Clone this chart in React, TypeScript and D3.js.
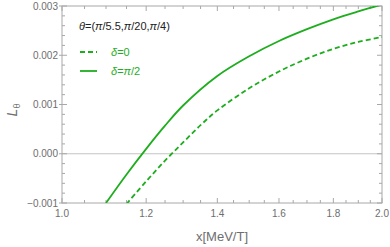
import React from "react";
import * as d3 from "d3";

// readings (log x axis)
const xsSolid = [1.1, 1.15, 1.2, 1.25, 1.3, 1.4, 1.5, 1.6, 1.7, 1.8, 1.9, 2.0];
const ysSolid = [-0.001, -0.00042, 0.0001, 0.00057, 0.00098, 0.00158, 0.00198, 0.00229, 0.00253, 0.00273, 0.00289, 0.00303];
const xsDashed = [1.15, 1.2, 1.25, 1.3, 1.35, 1.4, 1.5, 1.6, 1.7, 1.8, 1.9, 2.0];
const ysDashed = [-0.00102, -0.00056, -0.00014, 0.00023, 0.00058, 0.00088, 0.00133, 0.00167, 0.00193, 0.00213, 0.00227, 0.00237];

const xMajor = [1.0, 1.2, 1.4, 1.6, 1.8, 2.0];
const yMajor = [-0.001, 0.0, 0.001, 0.002, 0.003];
const yLabels = ["\u22120.001", "0.000", "0.001", "0.002", "0.003"];

const W = 390;
const H = 247;
const margin = { top: 6, right: 8, bottom: 44, left: 62 };
const green = "#1ead1e";
const frameColor = "#a8a8a8";
const textColor = "#6e6e6e";

const App = () => {
  const x = d3
    .scaleLog()
    .domain([1, 2])
    .range([margin.left, W - margin.right]);
  const y = d3
    .scaleLinear()
    .domain([-0.001, 0.003])
    .range([H - margin.bottom, margin.top]);

  const line = d3
    .line<[number, number]>()
    .x((d) => x(d[0]))
    .y((d) => y(d[1]))
    .curve(d3.curveCatmullRom.alpha(0.5));

  const solid = xsSolid.map((v, i) => [v, ysSolid[i]] as [number, number]);
  const dashed = xsDashed.map((v, i) => [v, ysDashed[i]] as [number, number]);

  const x0 = x(1), x1 = x(2), y0 = y(-0.001), y1 = y(0.003);

  const xMinor = d3.range(1.05, 2.0, 0.05).filter((v) => Math.abs(v * 5 - Math.round(v * 5)) > 1e-6);
  const yMinor = d3.range(-0.0008, 0.003, 0.0002).filter((v) => Math.abs(v * 1000 - Math.round(v * 1000)) > 1e-6);

  const font = "'Liberation Sans', Arial, sans-serif";

  return (
    <svg width={W} height={H} style={{ position: "absolute", left: 0, top: 0 }} fontFamily={font}>
      <defs>
        <clipPath id="plot">
          <rect x={x0} y={y1} width={x1 - x0} height={y0 - y1} />
        </clipPath>
      </defs>
      {/* zero line */}
      <line x1={x0} x2={x1} y1={y(0)} y2={y(0)} stroke="#c4c4c4" strokeWidth={1} />
      {/* frame */}
      <rect x={x0} y={y1} width={x1 - x0} height={y0 - y1} fill="none" stroke={frameColor} strokeWidth={1} />
      {/* x ticks */}
      {xMajor.map((v) => (
        <g key={"xm" + v}>
          <line x1={x(v)} x2={x(v)} y1={y0} y2={y0 - 5} stroke={frameColor} />
          <line x1={x(v)} x2={x(v)} y1={y1} y2={y1 + 5} stroke={frameColor} />
          <text x={x(v)} y={y0 + 14} textAnchor="middle" fontSize={10} fill={textColor}>
            {v.toFixed(1)}
          </text>
        </g>
      ))}
      {xMinor.map((v) => (
        <g key={"xn" + v}>
          <line x1={x(v)} x2={x(v)} y1={y0} y2={y0 - 3} stroke={frameColor} />
          <line x1={x(v)} x2={x(v)} y1={y1} y2={y1 + 3} stroke={frameColor} />
        </g>
      ))}
      {/* y ticks */}
      {yMajor.map((v, i) => (
        <g key={"ym" + v}>
          <line x1={x0 - 3} x2={x0 + 5} y1={y(v)} y2={y(v)} stroke={frameColor} />
          <line x1={x1} x2={x1 - 5} y1={y(v)} y2={y(v)} stroke={frameColor} />
          <text x={x0 - 4} y={y(v) + 3.5} textAnchor="end" fontSize={10} fill={textColor}>
            {yLabels[i]}
          </text>
        </g>
      ))}
      {yMinor.map((v) => (
        <g key={"yn" + v}>
          <line x1={x0} x2={x0 + 3} y1={y(v)} y2={y(v)} stroke={frameColor} />
          <line x1={x1} x2={x1 - 3} y1={y(v)} y2={y(v)} stroke={frameColor} />
        </g>
      ))}
      {/* curves */}
      <g clipPath="url(#plot)">
        <path d={line(dashed) || ""} fill="none" stroke={green} strokeWidth={1.8} strokeDasharray="5,3" />
        <path d={line(solid) || ""} fill="none" stroke={green} strokeWidth={1.8} />
      </g>
      {/* axis labels */}
      <text x={(x0 + x1) / 2} y={241} textAnchor="middle" fontSize={13} fill={textColor}>
        x[MeV/T]
      </text>
      <text transform={`translate(17,110) rotate(-90)`} textAnchor="middle" fontSize={14} fill={textColor}>
        <tspan fontStyle="italic">L</tspan>
        <tspan fontSize={9} dy={3}>θ</tspan>
      </text>
      {/* legend */}
      <text x={79} y={30} fontSize={11} fill="#222">
        <tspan fontStyle="italic">θ</tspan>=(<tspan fontStyle="italic">π</tspan>/5.5,<tspan fontStyle="italic">π</tspan>/20,<tspan fontStyle="italic">π</tspan>/4)
      </text>
      <line x1={80} x2={97} y1={52} y2={52} stroke={green} strokeWidth={1.8} strokeDasharray="5,3" />
      <text x={111} y={56} fontSize={11} fill={green}>
        <tspan fontStyle="italic">δ</tspan>=0
      </text>
      <line x1={80} x2={97} y1={71} y2={71} stroke={green} strokeWidth={1.8} />
      <text x={111} y={75} fontSize={11} fill={green}>
        <tspan fontStyle="italic">δ</tspan>=<tspan fontStyle="italic">π</tspan>/2
      </text>
    </svg>
  );
};

export default App;
